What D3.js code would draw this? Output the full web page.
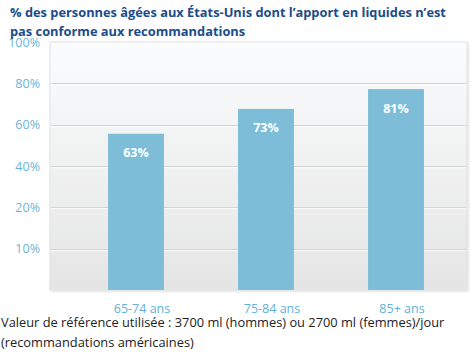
<!DOCTYPE html>
<html><head><meta charset="utf-8">
<script src="https://cdn.jsdelivr.net/npm/d3@7"></script>
<style>body{margin:0;background:#fff}svg{display:block}</style>
</head><body>
<script>
const categories = ["65-74 ans", "75-84 ans", "85+ ans"];
const values = [63, 73, 81];
const valueLabels = ["63%", "73%", "81%"];
const tickLabels = ["100%", "80%", "60%", "40%", "20%", "10%"];
const titleLines = ["% des personnes âgées aux États-Unis dont l’apport en liquides n’est", "pas conforme aux recommandations"];
const noteLines = ["Valeur de référence utilisée : 3700 ml (hommes) ou 2700 ml (femmes)/jour", "(recommandations américaines)"];

const W = 470, H = 354;
const plot = {l: 50, r: 467, t: 42, b: 290};
const svg = d3.select("body").append("svg").attr("width", W).attr("height", H);
const defs = svg.append("defs");
const g = defs.append("linearGradient").attr("id", "bg").attr("x1", 0).attr("y1", 0).attr("x2", 0).attr("y2", 1);
g.append("stop").attr("offset", "0%").attr("stop-color", "#fbfcfd");
g.append("stop").attr("offset", "100%").attr("stop-color", "#e5e5e5");
const f = defs.append("filter").attr("id", "sh").attr("x", "-5%").attr("y", "-5%").attr("width", "110%").attr("height", "110%");
f.append("feDropShadow").attr("dx", 1).attr("dy", 1).attr("stdDeviation", 1).attr("flood-color", "#000").attr("flood-opacity", 0.15);

const y = d3.scaleLinear().domain([0, 100]).range([plot.b, plot.t]);
const tickY = d3.scaleLinear().domain([0, tickLabels.length]).range([plot.t, plot.b]);
const x = d3.scaleBand().domain(categories).range([71, 461]).paddingInner(0.57).paddingOuter(0.285);

svg.append("rect").attr("x", plot.l).attr("y", plot.t).attr("width", plot.r - plot.l).attr("height", plot.b - plot.t)
  .attr("fill", "url(#bg)").attr("stroke", "#dfe1e3").attr("stroke-width", 1).attr("filter", "url(#sh)");

// gridlines
const gl = svg.append("g");
tickLabels.forEach((t, i) => {
  if (i === 0) return;
  const yy = Math.round(tickY(i)) + 0.5;
  gl.append("line").attr("x1", plot.l + 1).attr("x2", plot.r - 1).attr("y1", yy).attr("y2", yy).attr("stroke", "#d3d4d6").attr("stroke-width", 1.2);
  gl.append("line").attr("x1", plot.l + 1).attr("x2", plot.r - 1).attr("y1", yy + 1.2).attr("y2", yy + 1.2).attr("stroke", "#ffffff").attr("stroke-opacity", 0.8);
});

const ff = "'Open Sans', 'Noto Sans', sans-serif";
// y tick labels
svg.append("g").selectAll("text").data(tickLabels).join("text")
  .attr("x", 40).attr("y", (d, i) => tickY(i)).attr("dy", "0.36em")
  .attr("text-anchor", "end").attr("font-family", ff).attr("font-size", 12.5)
  .attr("fill", "#6bb4d6").text(d => d);

// bars
svg.append("g").selectAll("rect").data(values).join("rect")
  .attr("x", (d, i) => x(categories[i])).attr("width", x.bandwidth())
  .attr("y", d => y(d)).attr("height", d => y(0) - y(d))
  .attr("fill", "#7dbdd8");

// value labels
svg.append("g").selectAll("text").data(values).join("text")
  .attr("x", (d, i) => x(categories[i]) + x.bandwidth() / 2)
  .attr("y", d => y(d) + 19).attr("dy", "0.36em")
  .attr("text-anchor", "middle").attr("font-family", ff).attr("font-weight", "bold")
  .attr("font-size", 12.5).attr("fill", "#ffffff").text((d, i) => valueLabels[i]);

// category labels
svg.append("g").selectAll("text").data(categories).join("text")
  .attr("x", d => x(d) + x.bandwidth() / 2 + 6).attr("y", 308).attr("dy", "0.36em")
  .attr("text-anchor", "middle").attr("font-family", ff).attr("font-size", 12.5)
  .attr("fill", "#62b1d8").text(d => d);

// title
const title = svg.append("g");
titleLines.forEach((t, i) => {
  title.append("text").attr("x", 10).attr("y", 17 + i * 19)
    .attr("font-family", ff).attr("font-weight", "bold").attr("font-size", 13.5)
    .attr("fill", "#1c4c8a").text(t);
});
// fit first title line width
(function(){
  const n = title.select("text").node();
  const w = n.getComputedTextLength();
  const target = 436;
  const fs = 13.5 * target / w;
  title.selectAll("text").attr("font-size", fs);
})();

// note
const note = svg.append("g");
noteLines.forEach((t, i) => {
  note.append("text").attr("x", 1).attr("y", 327 + i * 20)
    .attr("font-family", ff).attr("font-size", 12.5).attr("fill", "#222").text(t);
});
(function(){
  const n = note.select("text").node();
  const w = n.getComputedTextLength();
  const fs = 12.5 * 444 / w;
  note.selectAll("text").attr("font-size", fs);
})();
</script>
</body></html>
